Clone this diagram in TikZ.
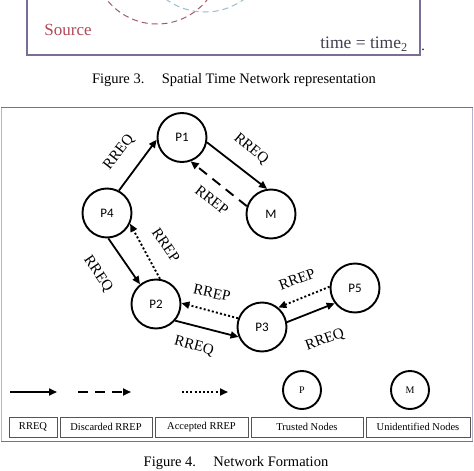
\documentclass[tikz,border=0pt]{standalone}
\usepackage{fontspec}
\setmainfont{Liberation Serif}
\newfontfamily\nodefont{Carlito}
\usetikzlibrary{arrows.meta}
\definecolor{framecol}{HTML}{7A6E96}
\definecolor{sidecol}{HTML}{B8B0CC}
\definecolor{srcred}{HTML}{B04A58}
\definecolor{arcred}{HTML}{A05A6A}
\definecolor{arcblue}{HTML}{9ABCCC}
\definecolor{timegray}{HTML}{404050}
\definecolor{legbox}{HTML}{555555}
\begin{document}
\begin{tikzpicture}[x=1pt,y=-1pt,
  pnode/.style={circle,draw,line width=1.9pt,minimum size=49pt,inner sep=0pt,font=\nodefont\fontsize{13}{13}\selectfont},
  lnode/.style={circle,draw,line width=1.9pt,minimum size=38pt,inner sep=0pt,font=\fontsize{10}{10}\selectfont},
  tip/.style={-{Triangle[length=8pt,width=7pt]}},
  req/.style={tip,line width=1.8pt},
  disc/.style={tip,line width=1.9pt,dash pattern=on 10pt off 7pt},
  acc/.style={tip,line width=1.9pt,dash pattern=on 2pt off 2.2pt},
  elabel/.style={font=\fontsize{15}{15}\selectfont,inner sep=0pt},
  legbox/.style={draw=legbox,line width=0.9pt,minimum height=20pt,inner sep=0pt,font=\fontsize{10.5}{10.5}\selectfont},
  capt/.style={font=\fontsize{14.5}{14.5}\selectfont,inner sep=0pt}
]
\clip (0,0) rectangle (474,471);
\fill[white] (0,0) rectangle (474,471);

% ---------- Figure 3 remnant ----------
\draw[arcred,line width=1pt,dash pattern=on 6pt off 4pt] (157,-40) circle (64);
\draw[arcblue,line width=1pt,dash pattern=on 6pt off 4pt] (205,-54) circle (66);
\draw[framecol,line width=1.3pt] (27,-5) -- (27,55) -- (420,55) -- (420,-5);
\node[text=srcred,font=\fontsize{17}{17}\selectfont,inner sep=0pt] (src) at (68,30) {Source};
\node[text=timegray,font=\fontsize{17.5}{17.5}\selectfont,inner sep=0pt] (tm) at (364,44) {time = time\textsubscript{2}};
\node[inner sep=0pt,font=\fontsize{14}{14}\selectfont] (dot) at (423,50) {.};
\node[capt] (cap3) at (234,80) {Figure 3.\hspace{1.2em}Spatial Time Network representation};

% ---------- Figure 4 frame ----------
\draw[sidecol,line width=1.5pt] (1.5,107.5) -- (1.5,441.5);
\draw[sidecol,line width=1.5pt] (472.5,107.5) -- (472.5,441.5);
\draw[framecol,line width=1.5pt] (1,107.5) -- (473,107.5);
\draw[framecol,line width=1.5pt] (1,441.5) -- (473,441.5);

% ---------- nodes ----------
\node[pnode] (P1) at (182,137.5) {P1};
\node[pnode] (P4) at (107,213) {P4};
\node[pnode] (M)  at (271,214) {M};
\node[pnode] (P2) at (156,304) {P2};
\node[pnode] (P3) at (262,327) {P3};
\node[pnode] (P5) at (355,288) {P5};

% ---------- edges ----------
\draw[req] (P4.62) -- (P1.185);
\draw[req] (P1.349) -- (M.99);
\draw[disc] (M.162) -- (P1.290);
\draw[req] (P4.273) -- (P2.129);
\draw[acc] (P2.81) -- (P4.335);
\draw[req] (P2.319) -- (P3.203);
\draw[acc] (P3.160) -- (P2.2);
\draw[req] (P3.11) -- (P5.217);
\draw[acc] (P5.177) -- (P3.50);

% ---------- edge labels ----------
\node[elabel,rotate=52] (l1) at (119,152) {RREQ};
\node[elabel,rotate=-40] (l2) at (251,149) {RREQ};
\node[elabel,rotate=-38] (l3) at (212,200) {RREP};
\node[elabel,rotate=-56] (l4) at (166,245) {RREP};
\node[elabel,rotate=-56] (l5) at (98,274) {RREQ};
\node[elabel,rotate=-12] (l6) at (212,293) {RREP};
\node[elabel,rotate=-15] (l7) at (194,346) {RREQ};
\node[elabel,rotate=20] (l8) at (297,279) {RREP};
\node[elabel,rotate=20] (l9) at (325,340) {RREQ};

% ---------- legend ----------
\coordinate (a1) at (10,392);  \coordinate (b1) at (57,392);
\coordinate (a2) at (78,392);  \coordinate (b2) at (131,392);
\coordinate (a3) at (182,392); \coordinate (b3) at (228,392);
\draw[req] (a1) -- (b1);
\draw[disc] (a2) -- (b2);
\draw[acc] (a3) -- (b3);
\node[lnode] (LP) at (302,390) {P};
\node[lnode] (LM) at (410,390) {M};

\node[legbox,minimum width=48pt]  (k1) at (33,427)    {RREQ};
\node[legbox,minimum width=92pt]  (k2) at (106,427)   {Discarded RREP};
\node[legbox,minimum width=93pt]  (k3) at (201.5,427) {Accepted RREP};
\node[legbox,minimum width=112pt] (k4) at (307,427)   {Trusted Nodes};
\node[legbox,minimum width=104pt] (k5) at (418,427)   {Unidentified Nodes};

\node[capt] (cap4) at (236,463) {Figure 4.\hspace{1.2em}Network Formation};
\end{tikzpicture}
\end{document}
